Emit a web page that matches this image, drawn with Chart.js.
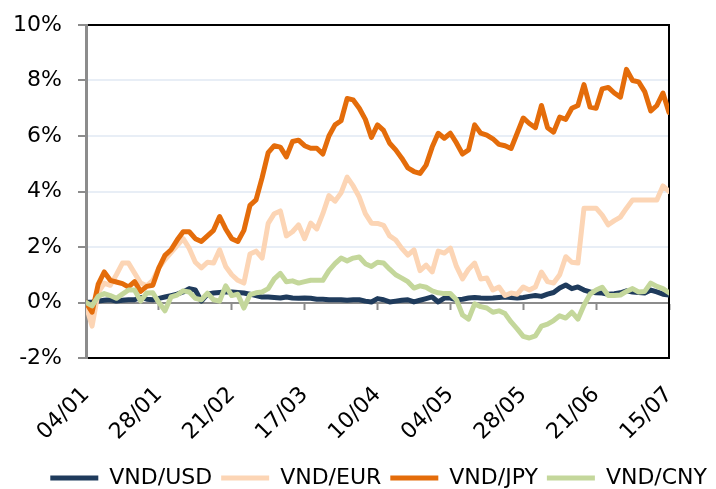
<!DOCTYPE html>
<html>
<head>
<meta charset="utf-8">
<script src="https://cdn.jsdelivr.net/npm/chart.js@4.4.1/dist/chart.umd.min.js"></script>
<style>
  html, body { margin: 0; padding: 0; background: #fff; overflow: hidden; }
  #wrap { width: 716px; height: 499px; }
</style>
</head>
<body>
<div id="wrap"><canvas id="fxChart" width="716" height="499"></canvas></div>
<script>
// one point every 2 days, starting 04/01
const dayStep = 2;
const tickStep = 24;
const tickLabels = ["04/01", "28/01", "21/02", "17/03", "10/04", "04/05", "28/05", "21/06", "15/07"];
const seriesNames = ["VND/USD", "VND/EUR", "VND/JPY", "VND/CNY"];
const seriesColors = ["#1f3b5c", "#fcd5b5", "#e46c0a", "#c4d79b"];

const usd = [
  0.0, 0.02, 0.05, 0.08, 0.1, 0.05, 0.08, 0.1, 0.1, 0.18, 0.12, 0.1, 0.15, 0.2, 0.25, 0.3,
  0.38, 0.5, 0.45, 0.05, 0.3, 0.34, 0.36, 0.38, 0.38, 0.36, 0.34, 0.3, 0.25, 0.2, 0.2, 0.18,
  0.16, 0.2, 0.16, 0.15, 0.16, 0.15, 0.12, 0.12, 0.1, 0.1, 0.1, 0.08, 0.1, 0.1, 0.05, 0.02,
  0.14, 0.1, 0.02, 0.05, 0.08, 0.1, 0.02, 0.08, 0.14, 0.2, 0.02, 0.16, 0.16, 0.1, 0.12, 0.16,
  0.18, 0.16, 0.15, 0.16, 0.18, 0.2, 0.18, 0.16, 0.18, 0.22, 0.25, 0.22, 0.3, 0.36, 0.52, 0.63,
  0.5, 0.56, 0.45, 0.38, 0.35, 0.34, 0.3, 0.32, 0.35, 0.42, 0.38, 0.36, 0.34, 0.45, 0.38, 0.3,
  0.27
];
const eur = [
  -0.1, -0.85, 0.35, 0.7, 0.62, 1.0, 1.42, 1.42, 1.06, 0.7, 0.6, 0.8, 1.25, 1.55, 1.8, 2.05,
  2.3, 1.95, 1.45, 1.25, 1.45, 1.42, 1.9, 1.3, 1.0, 0.8, 0.7, 1.75, 1.85, 1.6, 2.85, 3.2,
  3.3, 2.4, 2.55, 2.8, 2.3, 2.86, 2.65, 3.2, 3.85, 3.65, 3.95, 4.52, 4.2, 3.8, 3.2, 2.86,
  2.85, 2.78, 2.4, 2.25, 1.95, 1.71, 1.9, 1.15, 1.35, 1.1, 1.85, 1.78, 1.96, 1.3, 0.85, 1.2,
  1.42, 0.85, 0.88, 0.45, 0.56, 0.25, 0.34, 0.3, 0.56, 0.45, 0.56, 1.1, 0.75, 0.7, 1.0, 1.65,
  1.45, 1.42, 3.4, 3.4, 3.4, 3.15, 2.8, 2.95, 3.08, 3.4, 3.69, 3.69, 3.69, 3.69, 3.69, 4.2,
  4.0
];
const jpy = [
  0.0, -0.35, 0.65, 1.1, 0.8, 0.74, 0.68, 0.56, 0.75, 0.4, 0.58, 0.62, 1.25, 1.7, 1.9, 2.25,
  2.55, 2.55, 2.3, 2.2, 2.4, 2.6, 3.1, 2.65, 2.3, 2.2, 2.6, 3.5, 3.7, 4.5, 5.4, 5.65,
  5.6, 5.25, 5.8, 5.85, 5.65, 5.56, 5.56, 5.35, 6.0, 6.4, 6.55, 7.35, 7.3, 7.0, 6.6, 5.95,
  6.4, 6.2, 5.74, 5.5, 5.2, 4.85, 4.72, 4.65, 4.95, 5.6, 6.1, 5.92, 6.1, 5.75, 5.35, 5.5,
  6.4, 6.1, 6.03, 5.9, 5.7, 5.65, 5.55, 6.1, 6.65, 6.45, 6.3, 7.1, 6.3, 6.14, 6.68, 6.6,
  7.0, 7.1, 7.85, 7.04, 7.0, 7.7, 7.75, 7.55, 7.4, 8.4, 8.0, 7.95, 7.6, 6.9, 7.1, 7.55,
  6.85
];
const cny = [
  0.0, -0.12, 0.22, 0.32, 0.25, 0.15, 0.3, 0.45, 0.45, 0.05, 0.34, 0.35, 0.0, -0.3, 0.2, 0.27,
  0.42, 0.38, 0.15, 0.1, 0.34, 0.1, 0.05, 0.6, 0.25, 0.3, -0.2, 0.28, 0.35, 0.38, 0.5, 0.85,
  1.05, 0.75, 0.78, 0.7, 0.75, 0.8, 0.8, 0.8, 1.15, 1.4, 1.6, 1.5, 1.6, 1.64, 1.4, 1.3,
  1.45, 1.42, 1.2, 1.0, 0.88, 0.75, 0.52, 0.6, 0.55, 0.42, 0.35, 0.32, 0.32, 0.1, -0.45, -0.6,
  -0.05, -0.15, -0.2, -0.35, -0.3, -0.4, -0.7, -0.95, -1.22, -1.28, -1.2, -0.85, -0.78, -0.65, -0.48, -0.56,
  -0.35, -0.6, -0.1, 0.3, 0.45, 0.55, 0.25, 0.25, 0.27, 0.4, 0.5, 0.38, 0.4, 0.7, 0.58, 0.5,
  0.35
];

const allSeries = [usd, eur, jpy, cny];
const lastDay = (usd.length - 1) * dayStep;
const font = { family: "'DejaVu Sans', Verdana, sans-serif", size: 22 };
const axisGray = "#8c8c8c";

function toPoints(values) {
  return values.map((v, i) => ({ x: i * dayStep, y: v }));
}

function yGridColor(ctx) {
  const v = ctx.tick && ctx.tick.value;
  if (v === 0) return axisGray;
  if (v === 10 || v === -2) return "#000";
  return "#e8eef6";
}

const datasets = allSeries.map((values, i) => ({
  label: seriesNames[i],
  data: toPoints(values),
  borderColor: seriesColors[i],
  backgroundColor: seriesColors[i],
  borderWidth: 5,
  borderCapStyle: "round",
  borderJoinStyle: "round",
  pointRadius: 0,
  tension: 0,
  order: allSeries.length - i
}));

new Chart(document.getElementById("fxChart"), {
  type: "line",
  data: { datasets },
  options: {
    responsive: false,
    animation: false,
    devicePixelRatio: 1,
    layout: { padding: { top: 25, right: 0, bottom: 0, left: 0 } },
    plugins: {
      tooltip: { enabled: false },
      legend: {
        position: "bottom",
        align: "end",
        labels: {
          color: "#000",
          font,
          usePointStyle: true,
          pointStyle: "line",
          pointStyleWidth: 48,
          padding: 9,
          sort: (a, b) => a.datasetIndex - b.datasetIndex
        }
      }
    },
    scales: {
      x: {
        type: "linear",
        position: "bottom",
        min: 0,
        max: lastDay,
        grid: { display: false },
        border: { display: true, color: "#000", width: 2 },
        ticks: {
          stepSize: tickStep,
          autoSkip: false,
          maxRotation: 45,
          minRotation: 45,
          padding: 16,
          labelOffset: 0,
          color: "#000",
          font,
          callback: value => tickLabels[value / tickStep] ?? ""
        },
        afterFit: scale => {
          scale.height = 100;
          scale.paddingLeft = 0;
          scale.paddingRight = 0;
        }
      },
      xz: {
        type: "linear",
        axis: "x",
        position: { y: 0 },
        min: 0,
        max: lastDay,
        grid: { drawOnChartArea: false, drawTicks: true, tickLength: 6, tickColor: axisGray, tickWidth: 2 },
        border: { display: true, color: axisGray, width: 2 },
        ticks: { stepSize: tickStep, display: false }
      },
      y: {
        position: "left",
        min: -2,
        max: 10,
        grid: {
          color: yGridColor,
          lineWidth: 2,
          tickLength: 8,
          tickColor: axisGray,
          tickWidth: 2
        },
        border: { display: true, color: axisGray, width: 3 },
        ticks: {
          stepSize: 2,
          padding: 16,
          color: "#000",
          font,
          callback: value => value + "%"
        },
        afterFit: scale => {
          scale.width = 86;
          scale.paddingTop = 0;
          scale.paddingBottom = 0;
        }
      },
      yr: {
        type: "linear",
        position: "right",
        grid: { display: false },
        border: { display: true, color: "#000", width: 2 },
        ticks: { display: false },
        afterFit: scale => {
          scale.width = 47;
          scale.paddingTop = 0;
          scale.paddingBottom = 0;
        }
      }
    }
  }
});
</script>
</body>
</html>
